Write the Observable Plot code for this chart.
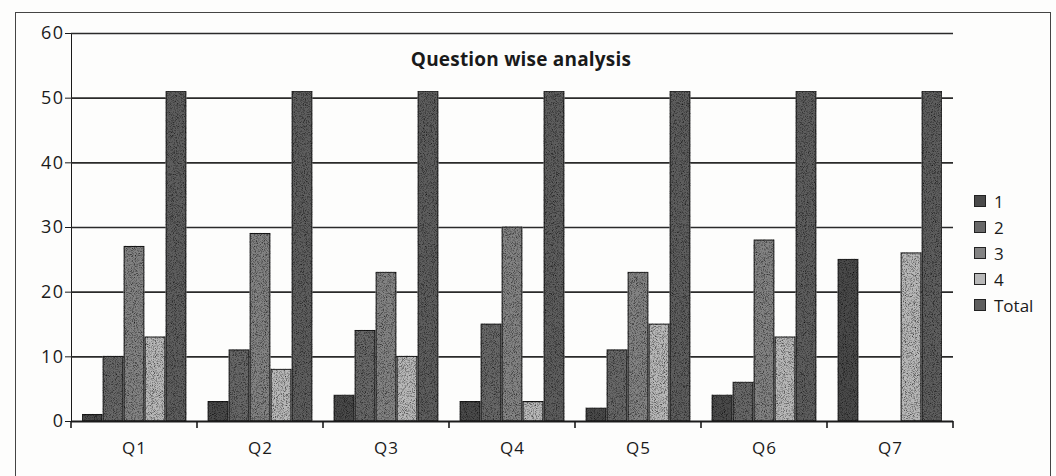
<!DOCTYPE html>
<html>
<head>
<meta charset="utf-8">
<script src="https://cdn.jsdelivr.net/npm/d3@7"></script>
<script src="https://cdn.jsdelivr.net/npm/@observablehq/plot@0.6"></script>
<style>
  html, body { margin: 0; padding: 0; background: #fdfdfc; overflow: hidden; }
  #wrap { position: relative; width: 1056px; height: 476px; font-family: "Open Sans", sans-serif; color: #1a1a1a; }
  #chart { position: absolute; left: 0; top: 0; }
  #chart svg text { font-size: 18px; fill: #1a1a1a; letter-spacing: 1.5px; }
  #chart svg g[aria-label^="fx-axis"] text { font-size: 17px; letter-spacing: 1px; }
  #border { position: absolute; left: 15px; top: 12px; width: 1036px; height: 520px; border: 1.5px solid #444; box-sizing: border-box; }
  #title { position: absolute; left: 0; width: 1042px; top: 48px; line-height: 22px; text-align: center; font-weight: 700; font-size: 19px; letter-spacing: 0.2px; }
  #legend { position: absolute; left: 974px; top: 188px; }
  .item { display: flex; align-items: center; height: 26px; font-size: 17px; line-height: 17px; }
  .sw { width: 12px; height: 12px; border: 1px solid #222; margin-right: 8px; box-sizing: border-box; }
</style>
</head>
<body>
<div id="wrap">
  <div id="chart"></div>
  <div id="border"></div>
  <div id="title">Question wise analysis</div>
  <div id="legend"></div>
</div>
<script>
// Questions on the x axis and the answer groups drawn for each of them
const questions = ["Q1", "Q2", "Q3", "Q4", "Q5", "Q6", "Q7"];
const seriesNames = ["1", "2", "3", "4", "Total"];

// Number of students per group, one value per question
const score1 = [1, 3, 4, 3, 2, 4, 25];
const score2 = [10, 11, 14, 15, 11, 6, 0];
const score3 = [27, 29, 23, 30, 23, 28, 0];
const score4 = [13, 8, 10, 3, 15, 13, 26];
const totals = [51, 51, 51, 51, 51, 51, 51];

const yTicks = [0, 10, 20, 30, 40, 50, 60];
const seriesFills = ["#4a4a4a", "#686868", "#838383", "#b8b8b8", "#5e5e5e"];

const seriesValues = [score1, score2, score3, score4, totals];
const rows = questions.flatMap((q, i) =>
  seriesNames.map((s, j) => ({ q, s, v: seriesValues[j][i] }))
);

const chart = Plot.plot({
  width: 1056,
  height: 476,
  marginLeft: 68,
  marginRight: 100,
  marginTop: 33,
  marginBottom: 55,
  style: { background: "transparent", fontFamily: "Open Sans, sans-serif", fontSize: "18px", color: "#1a1a1a" },
  facet: { data: rows, x: "q" },
  fx: { domain: questions, padding: 0, label: null, tickSize: 0, tickPadding: 20, axis: "bottom" },
  x: { domain: seriesNames, paddingInner: 0.07, paddingOuter: 0.49, axis: null },
  y: { domain: [0, 60], ticks: yTicks, tickSize: 6, tickPadding: 1, label: null, line: true },
  color: { domain: seriesNames, range: seriesFills },
  marks: [
    Plot.ruleY(yTicks.slice(1), { stroke: "#2a2a2a", strokeWidth: 1.6 }),
    Plot.barY(rows, { x: "s", y: "v", fill: "s", stroke: "#1a1a1a", strokeWidth: 1.2, filter: d => d.v > 0 }),
    Plot.ruleY([0], { stroke: "#1a1a1a", strokeWidth: 1.8 })
  ]
});
document.getElementById("chart").appendChild(chart);

// Grain texture for the bars
const svg = d3.select(chart);
svg.append("defs").html(`
  <filter id="grain" x="0" y="0" width="1" height="1" color-interpolation-filters="sRGB">
    <feTurbulence type="fractalNoise" baseFrequency="1.1" numOctaves="2" seed="7" result="noise"/>
    <feColorMatrix in="noise" type="saturate" values="0" result="gray"/>
    <feComponentTransfer in="gray" result="soft">
      <feFuncR type="linear" slope="2.2" intercept="-0.18"/>
      <feFuncG type="linear" slope="2.2" intercept="-0.18"/>
      <feFuncB type="linear" slope="2.2" intercept="-0.18"/>
      <feFuncA type="linear" slope="0" intercept="1"/>
    </feComponentTransfer>
    <feBlend in="SourceGraphic" in2="soft" mode="multiply" result="mix"/>
    <feComposite in="mix" in2="SourceGraphic" operator="in"/>
  </filter>`);
svg.selectAll('g[aria-label="bar"]').attr("filter", "url(#grain)");

// Tick marks at the boundaries between questions
const fx = Plot.scale({ x: chart.scale("fx") });
const y = Plot.scale({ y: chart.scale("y") });
const y0 = y.apply(0);
const bounds = questions.map(q => fx.apply(q));
bounds.push(fx.apply(questions[questions.length - 1]) + fx.bandwidth);
svg.append("g")
  .selectAll("line")
  .data(bounds)
  .join("line")
  .attr("x1", d => d).attr("x2", d => d)
  .attr("y1", y0).attr("y2", y0 + 7)
  .attr("stroke", "#1a1a1a").attr("stroke-width", 1.6);

// Legend
const legend = d3.select("#legend");
seriesNames.forEach((s, i) => {
  const item = legend.append("div").attr("class", "item");
  item.append("div").attr("class", "sw").style("background", seriesFills[i]);
  item.append("span").text(s);
});
</script>
</body>
</html>
